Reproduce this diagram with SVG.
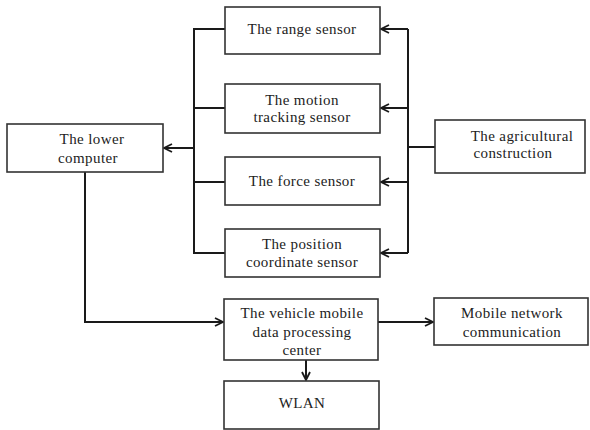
<svg xmlns="http://www.w3.org/2000/svg" width="590" height="430" viewBox="0 0 590 430">
  <style>
    .box { fill: #ffffff; stroke: #333333; stroke-width: 1.6; }
    .lbl { font-family: "Liberation Serif", "Times New Roman", serif; font-size: 15px; fill: #222222; text-anchor: middle; letter-spacing: 0.4px; }
    .wire { fill: none; stroke: #1a1a1a; stroke-width: 2; }
  </style>
  <defs>
    <marker id="chev" viewBox="0 0 10 10" refX="9" refY="5" markerWidth="10" markerHeight="10" markerUnits="userSpaceOnUse" orient="auto">
      <path d="M1,1 L9,5 L1,9" fill="none" stroke="#1a1a1a" stroke-width="1.8"/>
    </marker>
  </defs>
  <rect width="590" height="430" fill="#ffffff"/>

  <g id="connectors">
    <!-- sensors to left bus, bus to lower computer -->
    <path class="wire" d="M225,29 H194 V253 H225"/>
    <path class="wire" d="M225,108 H194"/>
    <path class="wire" d="M225,182 H194"/>
    <path class="wire" d="M194,148 H164" marker-end="url(#chev)"/>
    <!-- agricultural construction to right bus, bus to sensors -->
    <path class="wire" d="M435,147 H408"/>
    <path class="wire" d="M408,29 V253"/>
    <path class="wire" d="M408,29 H381" marker-end="url(#chev)"/>
    <path class="wire" d="M408,108 H381" marker-end="url(#chev)"/>
    <path class="wire" d="M408,182 H381" marker-end="url(#chev)"/>
    <path class="wire" d="M408,253 H381" marker-end="url(#chev)"/>
    <!-- lower computer to data processing center -->
    <path class="wire" d="M85,172 V322 H223" marker-end="url(#chev)"/>
    <!-- data processing center to mobile network and WLAN -->
    <path class="wire" d="M378,322 H433" marker-end="url(#chev)"/>
    <path class="wire" d="M306,360 V380" marker-end="url(#chev)"/>
  </g>

  <g id="range-sensor">
    <rect class="box" x="225" y="7" width="155" height="47"/>
    <text class="lbl" x="302" y="34">The range sensor</text>
  </g>
  <g id="motion-tracking-sensor">
    <rect class="box" x="225" y="84" width="155" height="49"/>
    <text class="lbl" x="302" y="105">The motion</text>
    <text class="lbl" x="302" y="122">tracking sensor</text>
  </g>
  <g id="force-sensor">
    <rect class="box" x="225" y="157" width="155" height="48"/>
    <text class="lbl" x="302" y="186">The force sensor</text>
  </g>
  <g id="position-sensor">
    <rect class="box" x="225" y="229" width="155" height="48"/>
    <text class="lbl" x="302" y="249">The position</text>
    <text class="lbl" x="302" y="267">coordinate sensor</text>
  </g>
  <g id="lower-computer">
    <rect class="box" x="7" y="124" width="156" height="48"/>
    <text class="lbl" x="92" y="144">The lower</text>
    <text class="lbl" x="88" y="163">computer</text>
  </g>
  <g id="agricultural-construction">
    <rect class="box" x="435" y="120" width="150" height="53"/>
    <text class="lbl" x="522" y="141">The agricultural</text>
    <text class="lbl" x="513" y="158">construction</text>
  </g>
  <g id="data-processing-center">
    <rect class="box" x="224" y="299" width="154" height="61"/>
    <text class="lbl" x="302" y="318">The vehicle mobile</text>
    <text class="lbl" x="302" y="337">data processing</text>
    <text class="lbl" x="302" y="355">center</text>
  </g>
  <g id="mobile-network">
    <rect class="box" x="434" y="298" width="154" height="47"/>
    <text class="lbl" x="512" y="318">Mobile network</text>
    <text class="lbl" x="512" y="337">communication</text>
  </g>
  <g id="wlan">
    <rect class="box" x="224" y="381" width="155" height="48"/>
    <text class="lbl" x="302" y="408">WLAN</text>
  </g>
</svg>
